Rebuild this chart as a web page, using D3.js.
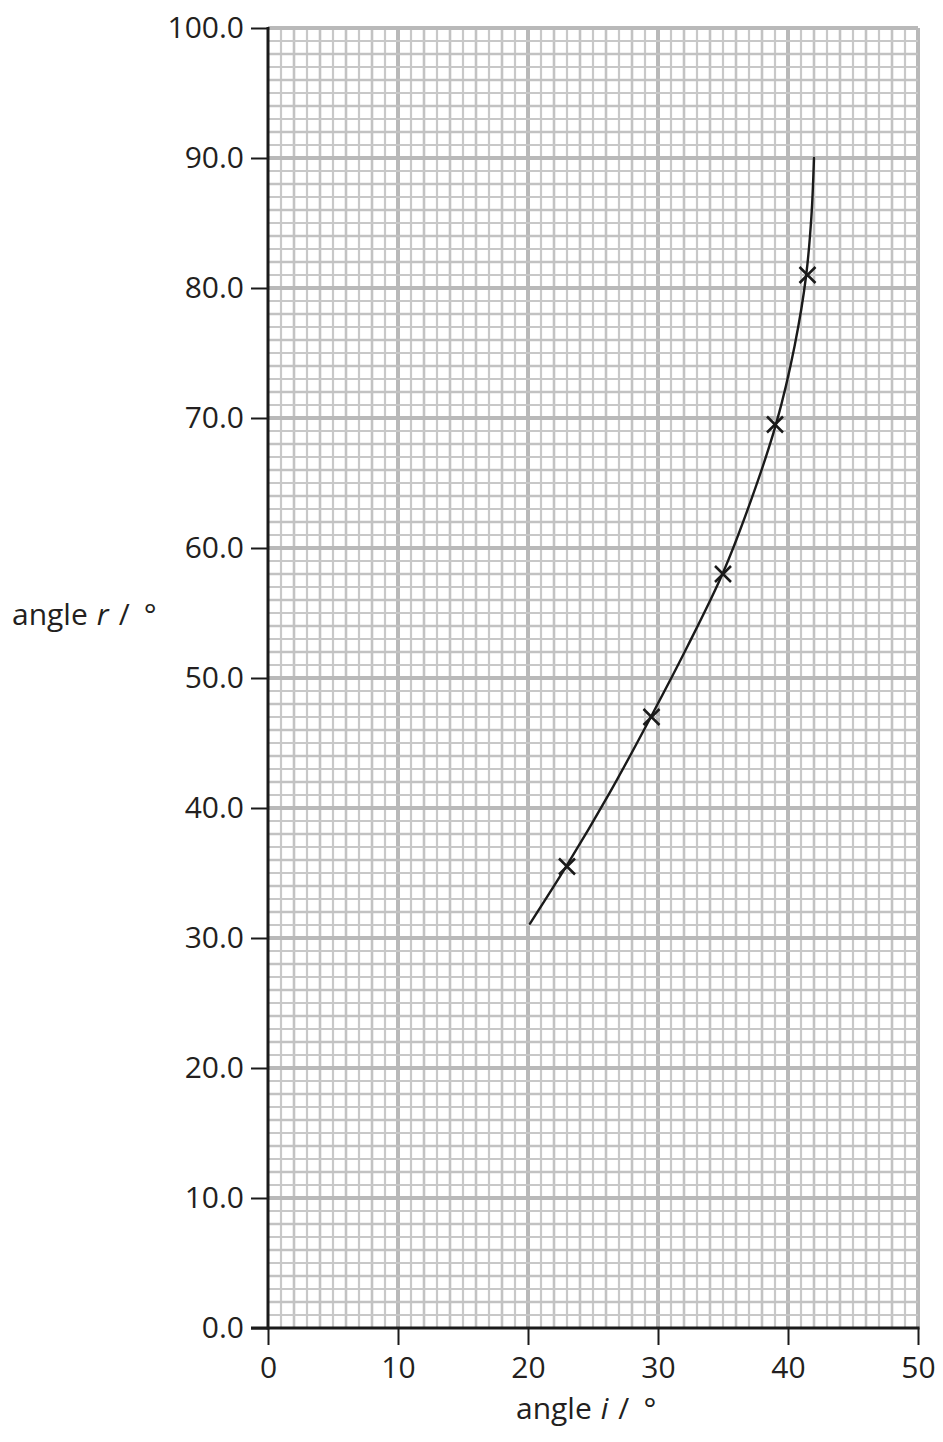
<!DOCTYPE html>
<html>
<head>
<meta charset="utf-8">
<script src="https://cdn.jsdelivr.net/npm/d3@7/dist/d3.min.js"></script>
<style>
  html, body { margin: 0; padding: 0; background: #fff; }
  svg { display: block; }
  text { font-family: "Open Sans", "Noto Sans", sans-serif; fill: #231f20; }
</style>
</head>
<body>
<svg id="chart" width="943" height="1442"></svg>
<script>
// ---- data ----
const xTicks = [0, 10, 20, 30, 40, 50];
const yTicks = [0, 10, 20, 30, 40, 50, 60, 70, 80, 90, 100];
const pointI = [23, 29.5, 35, 39, 41.5];
const pointR = [35.5, 47, 58, 69.5, 81];
const curveI = [20.15, 23, 26.3, 29.5, 32.3, 35, 37.2, 39.1, 40.5, 41.4, 41.8, 42];
const curveR = [31.1, 35.6, 41.2, 47.1, 52.5, 58.1, 63.8, 69.6, 75.5, 81.0, 85.5, 90];
const xTitle = ["angle", "i", "/", "°"];
const yTitle = ["angle", "r", "/", "°"];

// ---- layout ----
const mLeft = 268, mRight = 918, mTop = 28, mBottom = 1328;
const svg = d3.select("#chart");
const x = d3.scaleLinear().domain([0, 50]).range([mLeft, mRight]);
const y = d3.scaleLinear().domain([0, 100]).range([mBottom, mTop]);

// ---- grid ----
const grid = svg.append("g");
const gridUnitsX = d3.range(1, 51);
const gridUnitsY = d3.range(1, 101);
function gstyle(v) {
  if (v % 10 === 0) return { w: 4, c: "#b9b9b9" };
  if (v % 2 === 0) return { w: 2.6, c: "#c2c2c2" };
  return { w: 2.2, c: "#c8c8c8" };
}
gridUnitsX.forEach(v => {
  const s = gstyle(v);
  grid.append("line").attr("x1", x(v)).attr("x2", x(v)).attr("y1", y(0)).attr("y2", y(100))
    .attr("stroke", s.c).attr("stroke-width", s.w);
});
gridUnitsY.forEach(v => {
  const s = gstyle(v);
  grid.append("line").attr("x1", x(0)).attr("x2", x(50)).attr("y1", y(v)).attr("y2", y(v))
    .attr("stroke", s.c).attr("stroke-width", s.w);
});

// ---- axes ----
const fontSize = 30;
const yAxis = d3.axisLeft(y).tickValues(yTicks).tickFormat(d3.format(".1f")).tickSize(17).tickPadding(7);
const gy = svg.append("g").attr("transform", `translate(${mLeft},0)`).call(yAxis);
gy.select(".domain").attr("stroke", "#1a1a1a").attr("stroke-width", 3)
  .attr("d", `M0,${mTop - 1}V${mBottom + 1.5}`);
gy.selectAll(".tick line").attr("stroke", "#1a1a1a").attr("stroke-width", 2);
gy.selectAll(".tick text").attr("font-size", fontSize).attr("fill", "#231f20")
  .style("font-family", '"Open Sans", sans-serif');

const xAxis = d3.axisBottom(x).tickValues(xTicks).tickFormat(d3.format("d")).tickSize(17).tickPadding(12);
const gx = svg.append("g").attr("transform", `translate(0,${mBottom})`).call(xAxis);
gx.select(".domain").attr("stroke", "#1a1a1a").attr("stroke-width", 3)
  .attr("d", `M${mLeft - 17},0H${mRight + 1.5}`);
gx.selectAll(".tick line").attr("stroke", "#1a1a1a").attr("stroke-width", 2);
gx.selectAll(".tick text").attr("font-size", fontSize).attr("fill", "#231f20")
  .style("font-family", '"Open Sans", sans-serif');

// ---- curve ----
const curvePts = curveI.map((v, i) => [v, curveR[i]]);
svg.append("path")
  .datum(curvePts)
  .attr("d", d3.line().x(d => x(d[0])).y(d => y(d[1])).curve(d3.curveMonotoneY))
  .attr("fill", "none").attr("stroke", "#1a1a1a").attr("stroke-width", 2.4)
  .attr("stroke-linecap", "round");

// ---- crosses ----
const cs = 8;
const pts = pointI.map((v, i) => [v, pointR[i]]);
svg.append("g").selectAll("path").data(pts).join("path")
  .attr("d", d => {
    const cx = x(d[0]), cy = y(d[1]);
    return `M${cx - cs},${cy - cs}L${cx + cs},${cy + cs}M${cx - cs},${cy + cs}L${cx + cs},${cy - cs}`;
  })
  .attr("stroke", "#1a1a1a").attr("stroke-width", 2.5).attr("fill", "none");

// ---- titles ----
const titleGaps = [0, 9, 10, 14];
function title(parts, tx, ty) {
  const t = svg.append("text").attr("x", tx).attr("y", ty).attr("font-size", 30);
  parts.forEach((p, i) => {
    t.append("tspan").text(p).attr("dx", titleGaps[i])
      .attr("font-style", i === 1 ? "italic" : "normal");
  });
  return t;
}
title(yTitle, 12, 625);
title(xTitle, 516, 1419);
</script>
</body>
</html>
